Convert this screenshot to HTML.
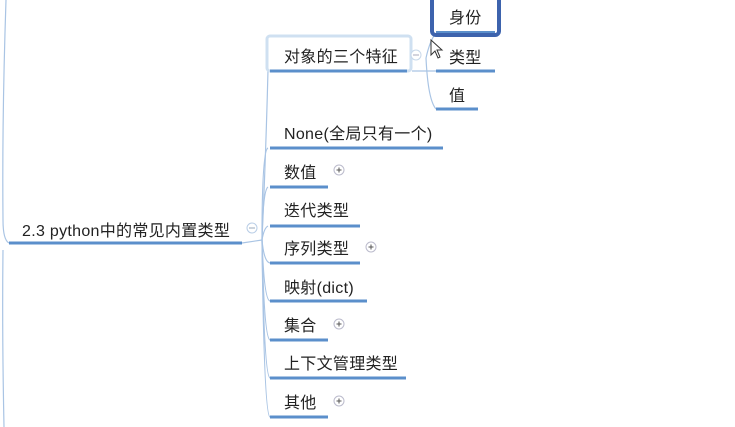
<!DOCTYPE html>
<html><head><meta charset="utf-8"><style>
html,body{margin:0;padding:0;background:#fff;width:735px;height:427px;overflow:hidden}
svg{display:block}
text{font-family:"Liberation Sans","Noto Sans CJK SC",sans-serif;font-size:16px;letter-spacing:0.3px;fill:#222}
</style></head><body>
<svg width="735" height="427" viewBox="0 0 735 427" xmlns="http://www.w3.org/2000/svg">
<g fill="none" stroke="#a9c4e4" stroke-width="1.2">
<path d="M6 0 Q2 120 3 220 Q3 240 9 243"/>
<path d="M3 250 Q2 330 4 427"/>
<path d="M262 240 Q266 150 268 70"/>
<path d="M262 240 Q262 150 268 148"/>
<path d="M262 240 Q263 190 268 187"/>
<path d="M262 240 Q264 228 268 226"/>
<path d="M262 240 Q264 262 270 263"/>
<path d="M262 240 Q264 300 270 301"/>
<path d="M262 240 Q264 338 270 340"/>
<path d="M262 240 Q264 376 270 378"/>
<path d="M262 240 Q264 415 270 417"/>
<path d="M242 243 L262 240"/>
<path d="M412 71 L436 71"/>
<path d="M426 58 Q430 40 436 33"/>
<path d="M426 58 Q428 100 436 109"/>
</g>
<text x="22" y="236">2.3 python中的常见内置类型</text>
<line x1="9" y1="243" x2="242" y2="243" stroke="#5b8fcb" stroke-width="3"/>
<circle cx="252" cy="228" r="5" fill="#fff" stroke="#b8cde6"/>
<line x1="249" y1="228" x2="255" y2="228" stroke="#9ab"/>
<rect x="267" y="36" width="144" height="35" rx="3" fill="#fff" stroke="#cfe0f1" stroke-width="3"/>
<text x="284" y="62">对象的三个特征</text>
<line x1="270" y1="71" x2="407" y2="71" stroke="#5b8fcb" stroke-width="3"/>
<circle cx="416" cy="55" r="5" fill="#fff" stroke="#c8d8ea"/>
<line x1="413" y1="55" x2="419" y2="55" stroke="#aab"/>
<rect x="432" y="-6" width="67" height="41" rx="4" fill="#fff" stroke="#3d63ad" stroke-width="4"/>
<text x="449" y="23">身份</text>
<line x1="436" y1="32" x2="495" y2="32" stroke="#5b8fcb" stroke-width="2"/>
<text x="449" y="63">类型</text>
<line x1="436" y1="71" x2="495" y2="71" stroke="#5b8fcb" stroke-width="3"/>
<text x="449" y="101">值</text>
<line x1="436" y1="109" x2="478" y2="109" stroke="#5b8fcb" stroke-width="3"/>
<path d="M431 40 L431 55 L435 51 L438 58 L440 57 L437 50 L442 50 Z" fill="#fff" stroke="#333" stroke-width="1"/>
<text x="284" y="139">None(全局只有一个)</text>
<line x1="270" y1="148" x2="443" y2="148" stroke="#5b8fcb" stroke-width="3"/>
<text x="284" y="178">数值</text>
<line x1="270" y1="187" x2="328" y2="187" stroke="#5b8fcb" stroke-width="3"/>
<text x="284" y="216">迭代类型</text>
<line x1="270" y1="226" x2="360" y2="226" stroke="#5b8fcb" stroke-width="3"/>
<text x="284" y="254">序列类型</text>
<line x1="270" y1="263" x2="360" y2="263" stroke="#5b8fcb" stroke-width="3"/>
<text x="284" y="293">映射(dict)</text>
<line x1="270" y1="301" x2="367" y2="301" stroke="#5b8fcb" stroke-width="3"/>
<text x="284" y="331">集合</text>
<line x1="270" y1="340" x2="328" y2="340" stroke="#5b8fcb" stroke-width="3"/>
<text x="284" y="369">上下文管理类型</text>
<line x1="270" y1="378" x2="406" y2="378" stroke="#5b8fcb" stroke-width="3"/>
<text x="284" y="408">其他</text>
<line x1="270" y1="417" x2="328" y2="417" stroke="#5b8fcb" stroke-width="3"/>
<g fill="#fff" stroke="#bbc" stroke-width="1">
<circle cx="339" cy="170" r="5"/><circle cx="371" cy="247" r="5"/>
<circle cx="339" cy="324" r="5"/><circle cx="339" cy="401" r="5"/>
</g>
<g stroke="#555" stroke-width="1">
<path d="M336.5 170h5M339 167.5v5"/><path d="M368.5 247h5M371 244.5v5"/>
<path d="M336.5 324h5M339 321.5v5"/><path d="M336.5 401h5M339 398.5v5"/>
</g>
</svg>
</body></html>
